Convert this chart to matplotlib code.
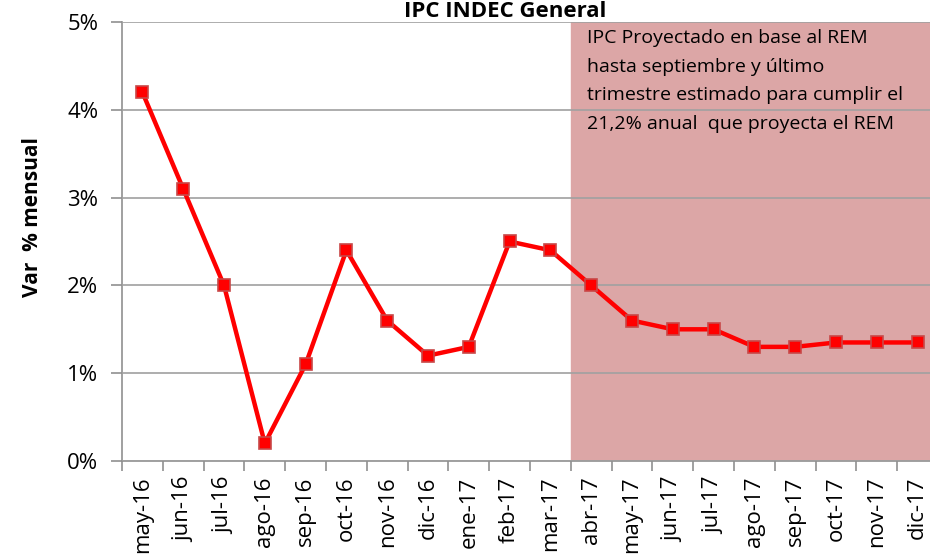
import numpy as np
import matplotlib.pyplot as plt

meses = ["may-16", "jun-16", "jul-16", "ago-16", "sep-16", "oct-16", "nov-16",
         "dic-16", "ene-17", "feb-17", "mar-17", "abr-17", "may-17", "jun-17",
         "jul-17", "ago-17", "sep-17", "oct-17", "nov-17", "dic-17"]
ipc = [4.2, 3.1, 2.0, 0.2, 1.1, 2.4, 1.6, 1.2, 1.3, 2.5, 2.4,
       2.0, 1.6, 1.5, 1.5, 1.3, 1.3, 1.35, 1.35, 1.35]
inicio_proyeccion = "abr-17"
nota = ("IPC Proyectado en base al REM\nhasta septiembre y último\n"
        "trimestre estimado para cumplir el\n21,2% anual  que proyecta el REM")

plt.rcParams['font.family'] = ['Open Sans', 'DejaVu Sans']

fig = plt.figure(figsize=(9.3, 5.56), dpi=100)
ax = fig.add_axes([122 / 930, 95 / 556, 816 / 930, 439 / 556])

x = np.arange(len(meses))
i0 = meses.index(inicio_proyeccion)
ax.axvspan(i0 - 0.5, len(meses) - 0.5, color='#dca6a6', zorder=1)

ax.plot(x, ipc, color='#ff0000', lw=3.2, marker='s', markersize=9,
        markerfacecolor='#ff0000', markeredgecolor='#c84848', markeredgewidth=1.2, zorder=3)

ax.set_xlim(-0.5, len(meses) - 0.5)
ax.set_ylim(0, 5)
ax.set_yticks(range(0, 6))
ax.set_yticklabels(["%d%%" % v for v in range(0, 6)], fontsize=16)
ax.yaxis.grid(True, color='#a0a0a0', lw=1.2, zorder=2)
ax.set_axisbelow(False)

ax.set_xticks(x)
ax.set_xticklabels(meses, rotation=90, fontsize=16)
ax.set_xticks(np.arange(-0.5, len(meses)), minor=True)
ax.tick_params(axis='x', which='major', length=0, pad=11)
ax.tick_params(axis='x', which='minor', length=7, color='#909090', width=1.2)
ax.tick_params(axis='y', length=8, color='#909090', width=1.2, pad=9)

for s in ['top', 'right']:
    ax.spines[s].set_visible(False)
for s in ['left', 'bottom']:
    ax.spines[s].set_color('#909090')
    ax.spines[s].set_linewidth(1.2)

ax.set_ylabel("Var  % mensual", fontsize=15, fontweight='bold')
ax.yaxis.set_label_coords(-0.097, 0.556)
ax.text(i0 - 0.1, 4.92, nota, fontsize=14, va='top', ha='left', linespacing=1.75, zorder=4)

fig.text(505 / 930, 1 - 17 / 556, "IPC INDEC General", ha='center', va='baseline',
         fontsize=16, fontweight='bold')

fig.savefig("out.png", dpi=100)
